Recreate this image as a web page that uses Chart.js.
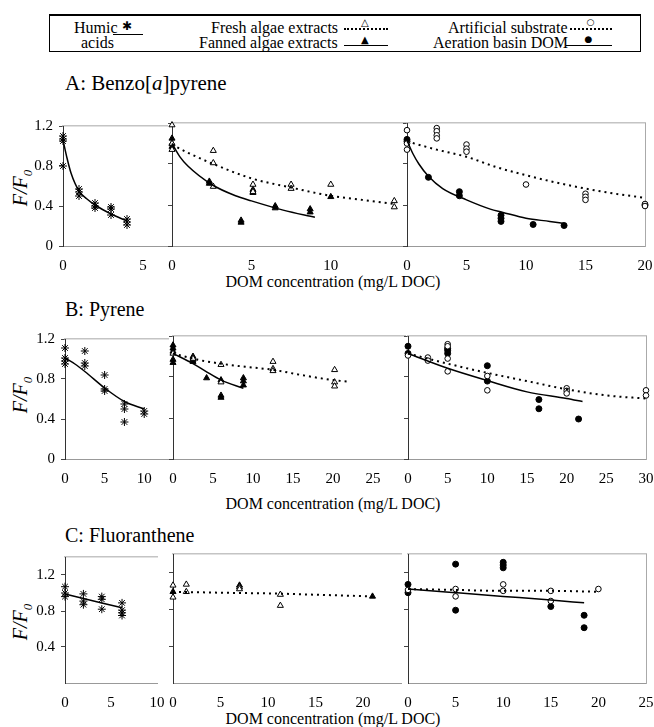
<!DOCTYPE html>
<html>
<head>
<meta charset="utf-8">
<script src="https://cdn.jsdelivr.net/npm/chart.js@4/dist/chart.umd.min.js"></script>
<style>
  body { margin: 0; background: #fff; }
  #page { position: relative; width: 654px; height: 727px; overflow: hidden; font-family: "Liberation Serif", "Times New Roman", serif; color: #000; }
  canvas { position: absolute; }
  .t { position: absolute; white-space: nowrap; line-height: 1; }
  .title { font-size: 20px; }
  .xt { font-size: 16px; left: 0; width: 654px; text-align: center; }
  .yt { font-size: 20px; font-style: italic; transform: rotate(-90deg); transform-origin: center; width: 60px; text-align: center; }
  .yt sub { font-size: 13px; }
  #legend { position: absolute; left: 49px; top: 14px; width: 590px; height: 35px; border: 1px solid #000; border-top-width: 2px; }
  .lg { font-size: 16px; }
  .sym { position: absolute; height: 0; }
  .sym.solid { border-top: 1.5px solid #000; }
  .sym.dot { border-top: 2px dotted #000; }
  .glyph { position: absolute; font-family: "DejaVu Sans", sans-serif; line-height: 1; }
</style>
</head>
<body>
<div id="page">
  <div id="legend"></div>

  <div class="t title" style="left:65px; top:73px; font-size:21px;">A: Benzo[<i>a</i>]pyrene</div>
  <div class="t title" style="left:65px; top:299px;">B: Pyrene</div>
  <div class="t title" style="left:65px; top:525px;">C: Fluoranthene</div>

  <div class="t yt" style="left:-8px; top:176px;">F/F<sub>0</sub></div>
  <div class="t yt" style="left:-8px; top:383px;">F/F<sub>0</sub></div>
  <div class="t yt" style="left:-8px; top:610px;">F/F<sub>0</sub></div>

  <div class="t xt" style="top:274px; padding-left:6px;">DOM concentration (mg/L DOC)</div>
  <div class="t xt" style="top:496px; padding-left:6px;">DOM concentration (mg/L DOC)</div>
  <div class="t xt" style="top:711px; padding-left:6px;">DOM concentration (mg/L DOC)</div>
</div>
<script>
// ---- data: [DOM mg/L DOC, F/F0] ----
// A: Benzo[a]pyrene
const bapHumic = [[0,1.10],[0,1.07],[0,1.05],[0,0.80],[1,0.57],[1,0.54],[1,0.50],[2,0.43],[2,0.40],[2,0.38],[3,0.39],[3,0.37],[3,0.31],[4,0.27],[4,0.24],[4,0.21]];
const bapHumicFit = [[0,1.06],[0.25,0.88],[0.5,0.73],[1,0.55],[1.5,0.47],[2,0.41],[3,0.32],[4,0.25]];
const bapFresh = [[0,1.18],[0,1.0],[0,0.94],[2.6,0.93],[2.6,0.81],[2.6,0.58],[5.1,0.60],[5.1,0.53],[7.5,0.60],[7.5,0.56],[10,0.60],[14,0.44],[14,0.38]];
const bapFreshFit = [[0,0.99],[1,0.91],[2.6,0.80],[5,0.66],[7.5,0.57],[10,0.49],[12,0.45],[14,0.41]];
const bapFanned = [[0,1.05],[0,1.0],[0,0.97],[2.35,0.63],[2.35,0.61],[4.35,0.25],[4.35,0.23],[5.1,0.55],[5.1,0.52],[6.5,0.39],[6.5,0.37],[8.7,0.36],[8.7,0.33],[10,0.48]];
const bapFannedFit = [[0,1.0],[0.5,0.87],[1,0.78],[2.5,0.60],[4,0.49],[5,0.44],[7,0.35],[9,0.28]];
const bapArtificial = [[0,1.13],[0,1.0],[0,0.94],[2.5,1.15],[2.5,1.12],[2.5,1.08],[2.5,1.05],[5,0.99],[5,0.95],[5,0.92],[10,0.60],[15,0.51],[15,0.48],[15,0.45],[20,0.41],[20,0.39]];
const bapArtificialFit = [[0,1.02],[2.5,0.94],[5,0.87],[7.5,0.77],[10,0.69],[12.5,0.62],[15,0.56],[17.5,0.51],[20,0.47]];
const bapAeration = [[0,1.04],[0,1.02],[1.8,0.67],[4.4,0.53],[4.4,0.49],[7.9,0.30],[7.9,0.27],[7.9,0.24],[10.6,0.21],[13.2,0.20],[20,0.40]];
const bapAerationFit = [[0,1.03],[0.5,0.90],[1,0.80],[1.8,0.68],[3,0.56],[5,0.45],[7,0.36],[8,0.33],[10,0.27],[12,0.24],[13.2,0.22]];

// B: Pyrene
const pyrHumic = [[0,1.11],[0,1.01],[0,0.98],[0,0.95],[2.5,1.08],[2.5,0.96],[2.5,0.93],[5,0.84],[5,0.70],[5,0.68],[7.5,0.55],[7.5,0.50],[7.5,0.37],[10,0.48],[10,0.45]];
const pyrHumicFit = [[0,1.01],[1.25,0.95],[2.5,0.875],[5,0.71],[7.5,0.575],[10,0.50]];
const pyrFresh = [[0,1.03],[2.5,0.98],[6,0.92],[6,0.75],[12.5,0.95],[12.5,0.88],[12.5,0.86],[20.2,0.87],[20.2,0.75],[20.2,0.71]];
const pyrFreshFit = [[0,1.03],[3,0.97],[6,0.93],[9,0.90],[12.5,0.87],[16,0.82],[20,0.77],[22,0.755]];
const pyrFanned = [[0,1.11],[0,1.08],[0,1.05],[0,0.97],[0,0.94],[2.5,1.00],[2.5,0.97],[2.5,0.95],[4.2,0.79],[6,0.77],[6,0.62],[6,0.60],[8.8,0.79],[8.8,0.76],[8.8,0.72]];
const pyrFannedFit = [[0,1.03],[2.5,0.93],[4,0.86],[6,0.77],[8.8,0.69]];
const pyrArtificial = [[0,1.01],[2.5,0.99],[2.5,0.96],[5,1.12],[5,1.10],[5,0.98],[5,0.855],[10,0.81],[10,0.67],[20,0.69],[20,0.665],[20,0.64],[30,0.67],[30,0.62]];
const pyrArtificialFit = [[0,1.03],[5,0.93],[10,0.84],[15,0.76],[20,0.68],[25,0.62],[30,0.59]];
const pyrAeration = [[0,1.10],[0,1.03],[5,1.08],[5,1.06],[5,1.03],[10,0.91],[10,0.76],[16.5,0.58],[16.5,0.49],[21.5,0.39]];
const pyrAerationFit = [[0,1.03],[5,0.885],[10,0.765],[15,0.655],[20,0.59],[22,0.56]];

// C: Fluoranthene
const fluHumic = [[0,1.07],[0,1.00],[0,0.96],[2,0.99],[2,0.91],[2,0.87],[4,0.96],[4,0.93],[4,0.82],[6.2,0.89],[6.2,0.81],[6.2,0.78],[6.2,0.75]];
const fluHumicFit = [[0,0.99],[2,0.94],[4,0.89],[6.2,0.835]];
const fluFresh = [[0,1.06],[0,0.93],[1.4,1.07],[1.4,0.99],[7,1.04],[7,1.02],[11.3,0.96],[11.3,0.84]];
const fluFreshFit = [[0,0.99],[5,0.98],[11,0.97],[16,0.955],[21,0.94]];
const fluFanned = [[0,0.99],[7,1.06],[21,0.94]];
const fluArtificial = [[0,1.01],[5,1.02],[5,0.94],[10,1.07],[10,1.00],[15,1.00],[15,0.89],[20,1.02]];
const fluArtificialFit = [[0,1.02],[5,1.01],[10,1.0],[15,1.0],[20,0.99]];
const fluAeration = [[0,1.07],[0,0.98],[5,1.29],[5,0.79],[10,1.31],[10,1.28],[10,1.25],[15,0.83],[18.5,0.735],[18.5,0.60]];
const fluAerationFit = [[0,1.02],[5,0.98],[10,0.94],[15,0.90],[18.5,0.87]];

// tick labels
const yTicksAB = [0, 0.4, 0.8, 1.2];
const yTicksC = [0.4, 0.8, 1.2];
const xTicks = {
  a1: [0, 5], a2: [0, 5, 10], a3: [0, 5, 10, 15, 20],
  b1: [0, 5, 10], b2: [0, 5, 10, 15, 20, 25], b3: [0, 5, 10, 15, 20, 25, 30],
  c1: [0, 5, 10], c2: [0, 5, 10, 15, 20], c3: [0, 5, 10, 15, 20, 25]
};

// ---- styles ----
Chart.defaults.font.family = '"Liberation Serif", "Times New Roman", serif';
Chart.defaults.color = '#000';

const toXY = arr => arr.map(p => ({ x: p[0], y: p[1] }));
function pts(arr, style) {
  const base = { type: 'scatter', data: toXY(arr), borderColor: '#000', borderWidth: 1, clip: false };
  if (style === 'star') return Object.assign(base, { pointStyle: 'star', pointRadius: 4, backgroundColor: '#000' });
  if (style === 'tri') return Object.assign(base, { pointStyle: 'triangle', pointRadius: 3.5, backgroundColor: '#fff' });
  if (style === 'triF') return Object.assign(base, { pointStyle: 'triangle', pointRadius: 3.5, backgroundColor: '#000' });
  if (style === 'circ') return Object.assign(base, { pointStyle: 'circle', pointRadius: 2.8, backgroundColor: '#fff' });
  return Object.assign(base, { pointStyle: 'circle', pointRadius: 3, backgroundColor: '#000' });
}
function fit(arr, dotted) {
  return {
    type: 'scatter', data: toXY(arr), showLine: true, pointRadius: 0, clip: false,
    borderColor: '#000', borderWidth: dotted ? 2 : 1.5, borderDash: dotted ? [2, 4] : [],
    cubicInterpolationMode: 'monotone'
  };
}

// panel geometry on the page: pixel of x=0, pixel of x=max, pixel of y=max, pixel of y=0
const YW = 45, PT = 12, PR = 14, XH = 30;
const panels = [
  { id: 'a1', x0: 63, x1: 167, yTop: 123, yBot: 246, xMax: 6.5, yMax: 1.2, yT: yTicksAB, showY: true,
    sets: [fit(bapHumicFit), pts(bapHumic, 'star')] },
  { id: 'a2', x0: 172, x1: 407, yTop: 123, yBot: 246, xMax: 14.8, yMax: 1.2, yT: yTicksAB, showY: false,
    sets: [fit(bapFreshFit, true), fit(bapFannedFit), pts(bapFresh, 'tri'), pts(bapFanned, 'triF')] },
  { id: 'a3', x0: 407, x1: 645, yTop: 123, yBot: 246, xMax: 20, yMax: 1.2, yT: yTicksAB, showY: false, frameRight: true,
    sets: [fit(bapArtificialFit, true), fit(bapAerationFit), pts(bapArtificial, 'circ'), pts(bapAeration, 'circF')] },
  { id: 'b1', x0: 65, x1: 168, yTop: 336, yBot: 459, xMax: 13, yMax: 1.2, yT: yTicksAB, showY: true,
    sets: [fit(pyrHumicFit), pts(pyrHumic, 'star')] },
  { id: 'b2', x0: 173, x1: 405, yTop: 336, yBot: 459, xMax: 29, yMax: 1.2, yT: yTicksAB, showY: false,
    sets: [fit(pyrFreshFit, true), fit(pyrFannedFit), pts(pyrFresh, 'tri'), pts(pyrFanned, 'triF')] },
  { id: 'b3', x0: 408, x1: 646, yTop: 336, yBot: 459, xMax: 30, yMax: 1.2, yT: yTicksAB, showY: false, frameRight: true,
    sets: [fit(pyrArtificialFit, true), fit(pyrAerationFit), pts(pyrArtificial, 'circ'), pts(pyrAeration, 'circF')] },
  { id: 'c1', x0: 65, x1: 157, yTop: 554, yBot: 683, xMax: 10, yMax: 1.4, yT: yTicksC, showY: true,
    sets: [fit(fluHumicFit), pts(fluHumic, 'star')] },
  { id: 'c2', x0: 173, x1: 401, yTop: 554, yBot: 683, xMax: 24, yMax: 1.4, yT: yTicksC, showY: false,
    sets: [fit(fluFreshFit, true), pts(fluFresh, 'tri'), pts(fluFanned, 'triF')] },
  { id: 'c3', x0: 408, x1: 646, yTop: 554, yBot: 683, xMax: 25, yMax: 1.4, yT: yTicksC, showY: false, frameRight: true,
    sets: [fit(fluArtificialFit, true), fit(fluAerationFit), pts(fluArtificial, 'circ'), pts(fluAeration, 'circF')] }
];

const page = document.getElementById('page');
panels.forEach(p => {
  const cv = document.createElement('canvas');
  const w = YW + (p.x1 - p.x0) + PR;
  const h = PT + (p.yBot - p.yTop) + XH;
  cv.width = w; cv.height = h;
  cv.style.left = (p.x0 - YW) + 'px';
  cv.style.top = (p.yTop - PT) + 'px';
  cv.style.width = w + 'px'; cv.style.height = h + 'px';
  page.appendChild(cv);

  const scales = {
    x: {
      type: 'linear', min: 0, max: p.xMax,
      afterBuildTicks: s => { s.ticks = xTicks[p.id].map(v => ({ value: v })); },
      afterFit: s => { s.height = XH; },
      ticks: { font: { size: 15 }, color: '#000', padding: 3, maxRotation: 0 },
      grid: { display: false },
      border: { color: '#999', width: 1 }
    },
    // faint top frame line left over from the scanned figure
    xTop: {
      type: 'linear', position: 'top', min: 0, max: p.xMax,
      afterFit: s => { s.height = 0; },
      ticks: { display: false }, grid: { display: false },
      border: { color: '#c4c4c4', width: 1.5 }
    },
    y: {
      min: 0, max: p.yMax,
      afterBuildTicks: s => { s.ticks = p.yT.map(v => ({ value: v })); },
      afterFit: s => { s.width = YW; },
      ticks: { display: p.showY, font: { size: 15 }, color: '#000', padding: 6,
               callback: v => v === 0 ? '0' : v.toFixed(1) },
      grid: { drawOnChartArea: false, drawTicks: true, tickLength: 4, color: '#444' },
      border: { color: '#333', width: 1 }
    }
  };
  if (p.frameRight) {
    scales.yRight = {
      position: 'right', min: 0, max: p.yMax,
      afterFit: s => { s.width = 0; },
      ticks: { display: false }, grid: { display: false },
      border: { color: '#aaa', width: 1, dash: [2, 3] }
    };
  }

  new Chart(cv.getContext('2d'), {
    type: 'scatter',
    data: { datasets: p.sets },
    options: {
      responsive: false, animation: false, devicePixelRatio: 1, events: [],
      layout: { padding: { top: PT, right: PR, left: 0, bottom: 0 } },
      plugins: { legend: { display: false }, tooltip: { enabled: false } },
      scales: scales
    }
  });
});

// ---- legend box (text + line/marker samples) ----
const legendItems = [
  { html: 'Humic', x: 24, y: 4 },
  { html: 'acids', x: 31, y: 19 },
  { html: 'Fresh algae extracts', x: 161, y: 4 },
  { html: 'Fanned algae extracts', x: 149, y: 19 },
  { html: 'Artificial substrate', x: 398, y: 4 },
  { html: 'Aeration basin DOM', x: 383, y: 19 }
];
const legendSymbols = [
  { x: 63, y: 18, w: 30, kind: 'solid', glyph: '✱', gs: 12, gy: -15 },
  { x: 294, y: 12, w: 44, kind: 'dot', glyph: '△', gs: 10, gy: -12 },
  { x: 294, y: 29, w: 44, kind: 'solid', glyph: '▲', gs: 10, gy: -11 },
  { x: 520, y: 12, w: 42, kind: 'dot', glyph: '○', gs: 9, gy: -12 },
  { x: 516, y: 29, w: 46, kind: 'solid', glyph: '●', gs: 9, gy: -11 }
];
const lg = document.getElementById('legend');
legendItems.forEach(it => {
  const d = document.createElement('div');
  d.className = 't lg';
  d.style.left = it.x + 'px'; d.style.top = it.y + 'px';
  d.innerHTML = it.html;
  lg.appendChild(d);
});
legendSymbols.forEach(s => {
  const l = document.createElement('div');
  l.className = 'sym ' + s.kind;
  l.style.left = s.x + 'px'; l.style.top = s.y + 'px'; l.style.width = s.w + 'px';
  const g = document.createElement('div');
  g.className = 'glyph';
  g.textContent = s.glyph;
  g.style.fontSize = s.gs + 'px';
  g.style.left = (s.w / 2 - s.gs / 2) + 'px';
  g.style.top = s.gy + 'px';
  l.appendChild(g);
  lg.appendChild(l);
});
</script>
</body>
</html>
